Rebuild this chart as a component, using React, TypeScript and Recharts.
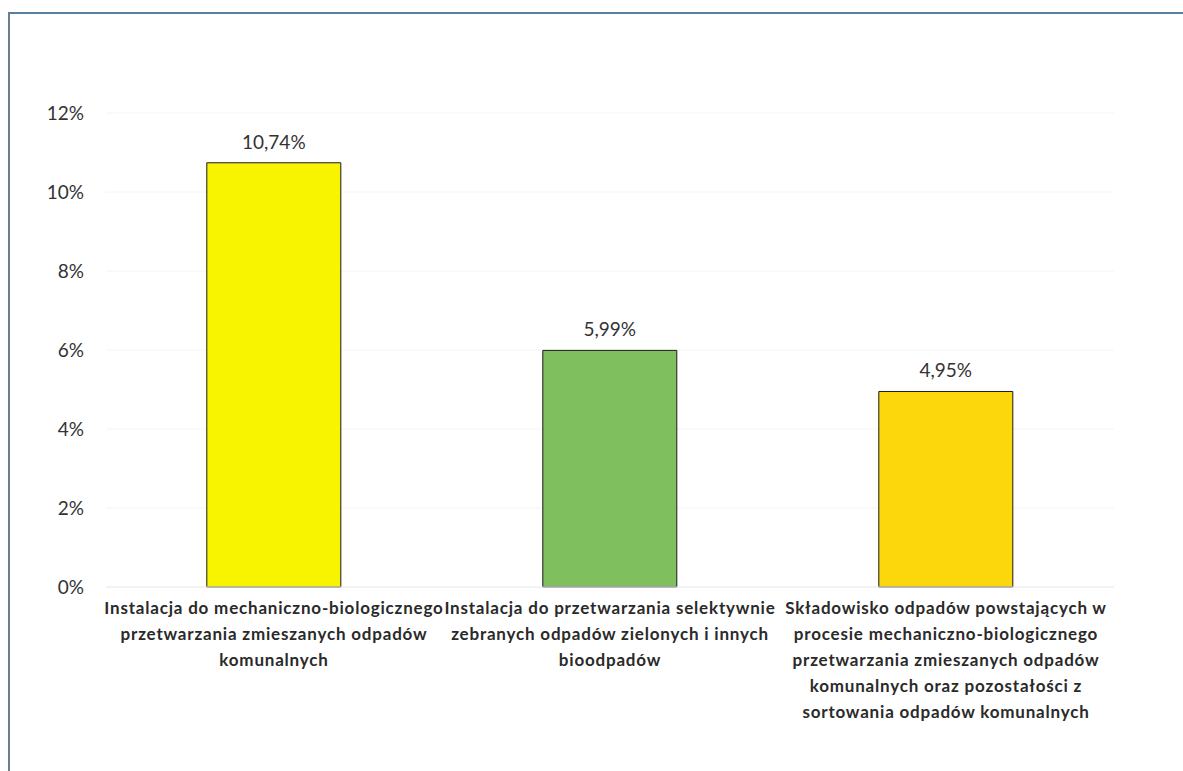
import { Bar, BarChart, CartesianGrid, Cell, LabelList, XAxis, YAxis } from "recharts";

const categories = [
  "Instalacja do mechaniczno-biologicznego\nprzetwarzania zmieszanych odpadów\nkomunalnych",
  "Instalacja do przetwarzania selektywnie\nzebranych odpadów zielonych i innych\nbioodpadów",
  "Składowisko odpadów powstających w\nprocesie mechaniczno-biologicznego\nprzetwarzania zmieszanych odpadów\nkomunalnych oraz pozostałości z\nsortowania odpadów komunalnych",
];
const shares = [10.74, 5.99, 4.95];
const barColors = ["#f8f400", "#7fbf5e", "#fbd70c"];
const yTicks = [0, 2, 4, 6, 8, 10, 12];

const data = categories.map((name, i) => ({ name, value: shares[i] }));

const fmt = (v: number) => v.toFixed(2).replace(".", ",") + "%";

function CategoryTick({ x, y, payload }: any) {
  const lines = String(payload.value).split("\n");
  return (
    <text
      x={x}
      y={y}
      textAnchor="middle"
      fontFamily="Lato, sans-serif"
      fontWeight={700}
      fontSize={17}
      letterSpacing={0.8}
      fill="#2a2a2a"
    >
      {lines.map((l, i) => (
        <tspan key={i} x={x} dy={i === 0 ? 19 : 26}>
          {l}
        </tspan>
      ))}
    </text>
  );
}

function PercentTick({ y, payload }: any) {
  return (
    <text
      x={84}
      y={y}
      dy={7}
      textAnchor="end"
      fontFamily="Lato, sans-serif"
      fontSize={19}
      fill="#333"
    >
      {payload.value}%
    </text>
  );
}

function App() {
  return (
    <div
      style={{
        position: "absolute",
        left: 0,
        top: 0,
        width: 1183,
        height: 771,
        background: "#fff",
      }}
    >
      <div
        style={{
          position: "absolute",
          left: 8,
          top: 12,
          right: 0,
          bottom: 0,
          borderTop: "2px solid #58809e",
          borderLeft: "2px solid #6a7f92",
        }}
      />
      <BarChart
        width={1183}
        height={771}
        data={data}
        margin={{ top: 113, right: 69, bottom: 14, left: 0 }}
        barCategoryGap="30%"
        style={{ position: "absolute", left: 0, top: 0 }}
      >
        <CartesianGrid vertical={false} stroke="#f4f4f4" />
        <XAxis
          dataKey="name"
          interval={0}
          height={170}
          tickLine={false}
          axisLine={{ stroke: "#ebebeb" }}
          tick={<CategoryTick />}
        />
        <YAxis
          width={106}
          domain={[0, 12]}
          ticks={yTicks}
          tickLine={false}
          axisLine={false}
          tick={<PercentTick />}
        />
        <Bar dataKey="value" stroke="#1a1a1a" strokeWidth={1} isAnimationActive={false}>
          {data.map((d, i) => (
            <Cell key={d.name} fill={barColors[i]} />
          ))}
          <LabelList
            dataKey="value"
            position="top"
            offset={14}
            formatter={(v: any) => fmt(Number(v))}
            fontFamily="Lato, sans-serif"
            fontSize={19}
            fill="#333"
          />
        </Bar>
      </BarChart>
    </div>
  );
}

export default App;
